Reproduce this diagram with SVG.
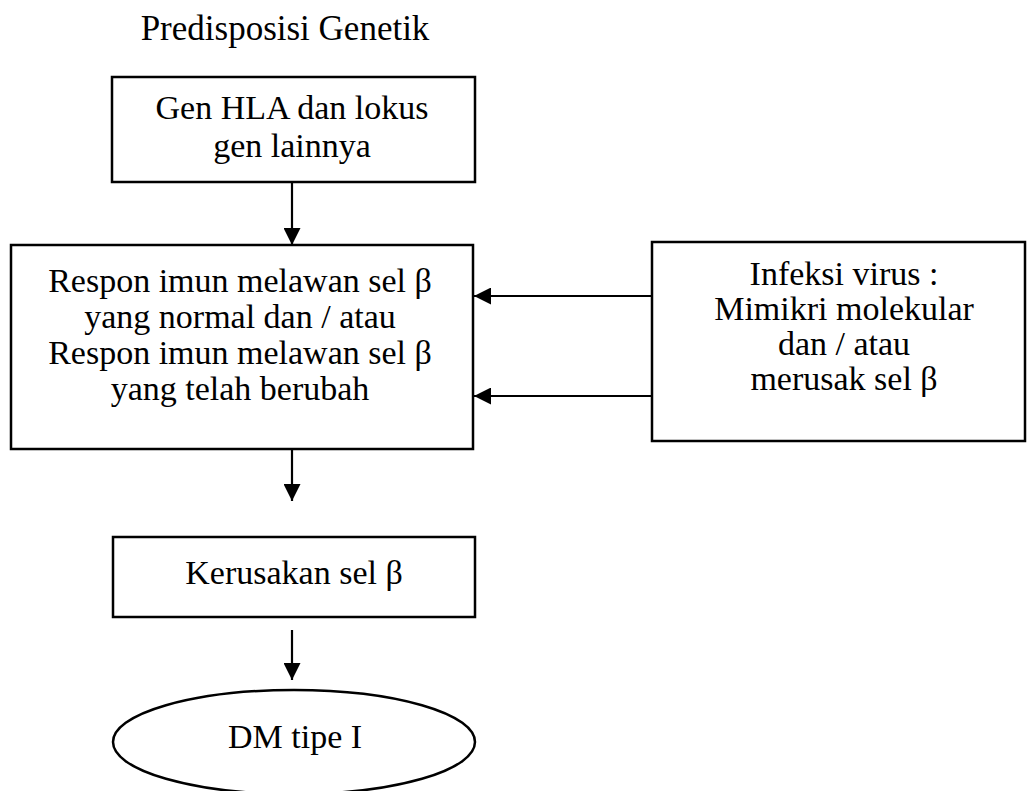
<svg xmlns="http://www.w3.org/2000/svg" width="1027" height="791" viewBox="0 0 1027 791">
<defs>
<style>
.t{font-family:"Liberation Serif","Times New Roman",serif;font-size:34px;fill:#000;text-anchor:middle}
.h{font-size:35px}
.b{fill:#fff;stroke:#000;stroke-width:2.5}
.c{stroke:#000;stroke-width:2.2;fill:none}
</style>
<marker id="ah" viewBox="0 0 16 16" refX="16" refY="8" markerWidth="17" markerHeight="17" markerUnits="userSpaceOnUse" orient="auto">
<path d="M0,0 L16,8 L0,16 Z" fill="#000"/>
</marker>
</defs>
<rect width="1027" height="791" fill="#fff"/>
<g id="title">
<text class="t h" x="285" y="40">Predisposisi Genetik</text>
</g>
<g id="gen">
<rect class="b" x="112" y="77" width="363" height="105"/>
<text class="t" x="292" y="119">Gen HLA dan lokus</text>
<text class="t" x="292" y="157">gen lainnya</text>
</g>
<g id="respon">
<rect class="b" x="11" y="245" width="462" height="204"/>
<text class="t" x="240" y="292">Respon imun melawan sel β</text>
<text class="t" x="240" y="328">yang normal dan / atau</text>
<text class="t" x="240" y="364">Respon imun melawan sel β</text>
<text class="t" x="240" y="400">yang telah berubah</text>
</g>
<g id="infeksi">
<rect class="b" x="652" y="242" width="373" height="199"/>
<text class="t" x="844" y="285">Infeksi virus :</text>
<text class="t" x="844" y="320">Mimikri molekular</text>
<text class="t" x="844" y="355">dan / atau</text>
<text class="t" x="844" y="390">merusak sel β</text>
</g>
<g id="kerusakan">
<rect class="b" x="113" y="537" width="362" height="80"/>
<text class="t" x="294" y="584">Kerusakan sel β</text>
</g>
<g id="dm">
<ellipse class="b" cx="294" cy="742" rx="181" ry="52"/>
<text class="t" x="295" y="748">DM tipe I</text>
</g>
<g id="connectors">
<line class="c" x1="292" y1="182" x2="292" y2="245" marker-end="url(#ah)"/>
<line class="c" x1="652" y1="296" x2="474" y2="296" marker-end="url(#ah)"/>
<line class="c" x1="652" y1="396" x2="474" y2="396" marker-end="url(#ah)"/>
<line class="c" x1="292" y1="450" x2="292" y2="501" marker-end="url(#ah)"/>
<line class="c" x1="292" y1="630" x2="292" y2="680" marker-end="url(#ah)"/>
</g>
</svg>
